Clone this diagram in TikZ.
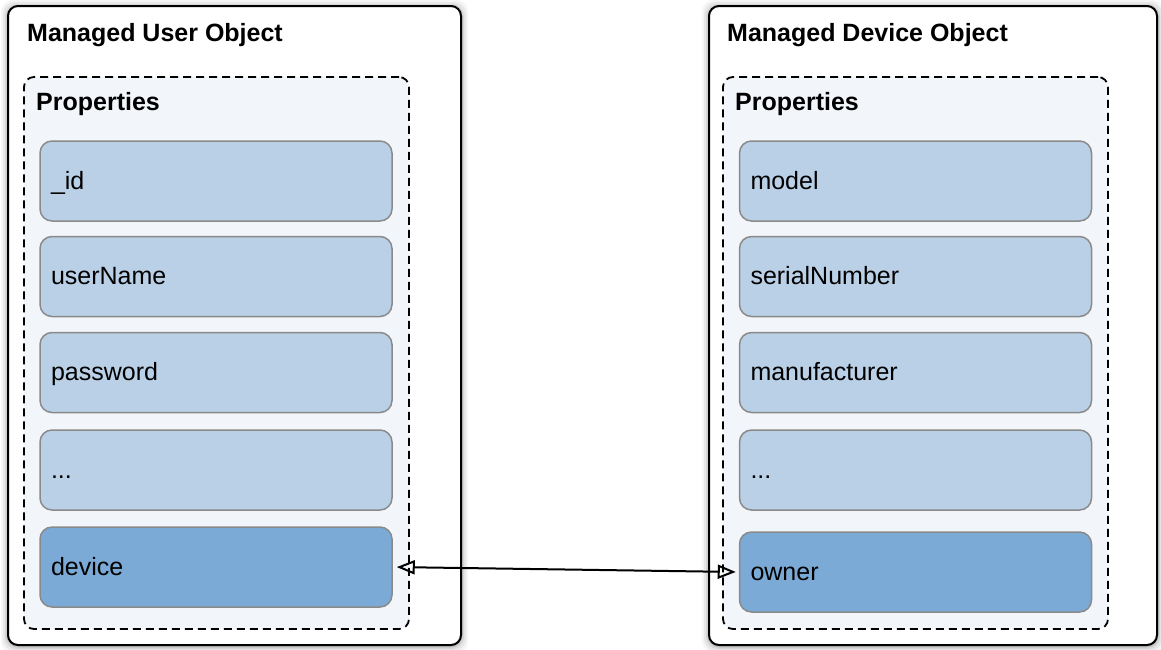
\documentclass[tikz,border=0pt]{standalone}
\usepackage{fontspec}
\setmainfont{Liberation Sans}
\usetikzlibrary{arrows.meta}
\definecolor{propfill}{HTML}{BAD0E6}
\definecolor{keyfill}{HTML}{7BAAD6}
\definecolor{propline}{HTML}{8A8A8A}
\definecolor{groupfill}{HTML}{F2F6FB}
\tikzset{
  outerbox/.style={draw=black, line width=2pt, fill=white, rounded corners=10pt, minimum width=#1, minimum height=639pt, inner sep=0pt},
  groupbox/.style={draw=black, line width=1.8pt, dash pattern=on 8pt off 5pt, fill=groupfill, rounded corners=10pt, minimum width=385pt, minimum height=552pt, inner sep=0pt},
  propbox/.style={draw=propline, line width=1.5pt, fill=propfill, rounded corners=12pt, minimum height=80pt, text width=330pt, text height=17pt, text depth=1pt, inner xsep=11pt, inner ysep=0pt, align=left, font=\fontsize{25}{30}\selectfont},
  keybox/.style={propbox, fill=keyfill},
  titletext/.style={anchor=base west, inner sep=0pt, font=\fontsize{25}{30}\selectfont\bfseries},
  reflink/.style={draw=black, line width=2pt, {Triangle[open, length=18pt, width=14pt, line width=2pt]}-{Triangle[open, length=18pt, width=14pt, line width=2pt]}}
}
\begin{document}
\begin{tikzpicture}[x=1pt, y=-1pt]
\useasboundingbox (0,0) rectangle (1161,649);
% soft shadows
\foreach \k/\op in {7/0.04, 5/0.06, 3/0.08, 1.5/0.10}{
  \fill[black, opacity=\op, rounded corners=12pt] (234.5-226.5-\k,6-\k+1) rectangle (234.5+226.5+\k,645+\k+1);
  \fill[black, opacity=\op, rounded corners=12pt] (933-224-\k,6-\k+1) rectangle (933+224+\k,645+\k+1);
}
% left object
\node[outerbox=453pt] (userobj) at (234.5,325.5) {};
\node[titletext] (usertitle) at (27,41.5) {Managed User Object};
\node[groupbox] (userprops) at (216.5,353) {};
\node[titletext] (userpropstitle) at (36,110) {Properties};
\node[propbox] (uid) at (216,181) {\_id};
\node[propbox] (uname) at (216,276.5) {userName};
\node[propbox] (upass) at (216,372.5) {password};
\node[propbox] (umore) at (216,470) {...};
\node[keybox] (device) at (216,567) {device};
% right object
\node[outerbox=448pt] (devobj) at (933,325.5) {};
\node[titletext] (devtitle) at (727,41.5) {Managed Device Object};
\node[groupbox] (devprops) at (915.5,353) {};
\node[titletext] (devpropstitle) at (735,110) {Properties};
\node[propbox] (dmodel) at (915.5,181) {model};
\node[propbox] (dserial) at (915.5,276.5) {serialNumber};
\node[propbox] (dmanu) at (915.5,372.5) {manufacturer};
\node[propbox] (dmore) at (915.5,470) {...};
\node[keybox] (owner) at (915.5,572) {owner};
% link
\draw[reflink, shorten <=4pt, shorten >=3pt] (device.east) -- (owner.west);
\end{tikzpicture}
\end{document}
